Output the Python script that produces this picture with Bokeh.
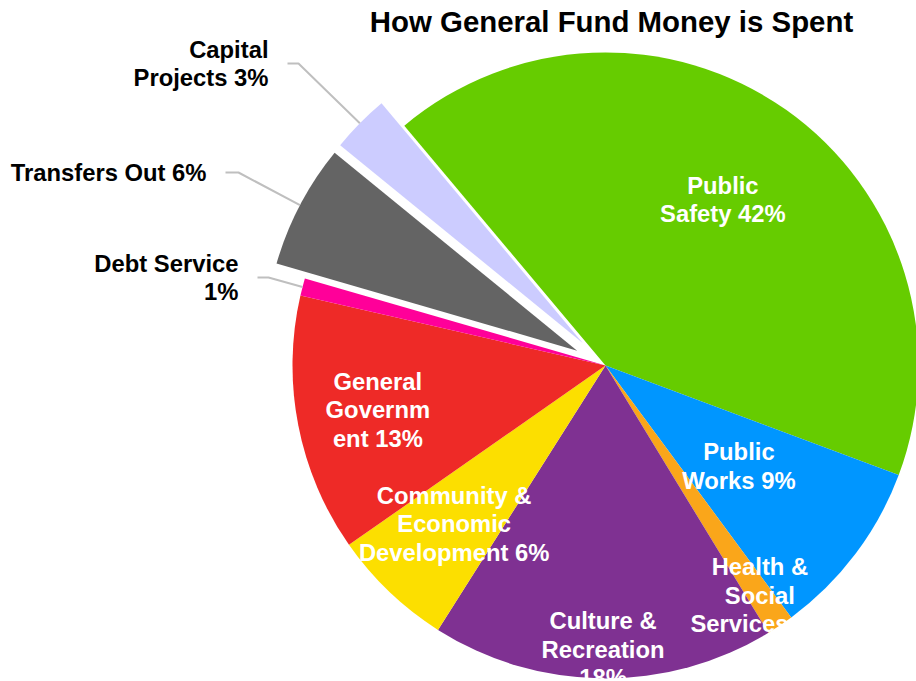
import math
from bokeh.plotting import figure
from bokeh.models import ColumnDataSource, Range1d, Label
from bokeh.core.properties import value
from bokeh.embed import file_html
from bokeh.resources import INLINE

# ---------------- data ----------------
title_text = "How General Fund Money is Spent"
categories = ["Public Safety", "Public Works", "Health & Social Services",
              "Culture & Recreation", "Community & Economic Development",
              "General Government", "Debt Service", "Transfers Out",
              "Capital Projects"]
shares = [41.8, 9.2, 1.4, 17.7, 6.3, 13.3, 0.9, 6.4, 3.0]
label_lines = [
    ["Public", "Safety 42%"],
    ["Public", "Works 9%"],
    ["Health &", "Social", "Services 1%"],
    ["Culture &", "Recreation", "18%"],
    ["Community &", "Economic", "Development 6%"],
    ["General", "Governm", "ent 13%"],
    ["Debt Service", "1%"],
    ["Transfers Out 6%"],
    ["Capital", "Projects 3%"],
]

# ---------------- style ----------------
colors = ["#66CC00", "#0096FF", "#FAA61A", "#7F3192", "#FCDF00",
          "#EE2A27", "#FF0099", "#646464", "#CCCCFF"]
explode = [0, 0, 0, 0, 0, 0, 0, 32, 32]
inside_frac = [0.65, 0.534, 0.885, 0.907, 0.70, 0.741, None, None, None]
# leader elbow / end points for outside labels (page pixel coords)
leader_pts = [None] * 6 + [((268, 277), (257, 277)),
                           ((238, 172), (225, 172)),
                           ((298, 63), (287, 63))]

W, H = 916, 681
CX, CY_REF = 605, 365
R = 313
START_DEG = 130.0
LH = 28.5
FS = "23.8px"
FONT = "Liberation Sans"


def Yd(y_ref):
    return H - y_ref


CY = Yd(CY_REF)

p = figure(width=W, height=H, output_backend="svg", toolbar_location=None,
           x_range=Range1d(0, W), y_range=Range1d(0, H),
           min_border=0, outline_line_color=None)
p.axis.visible = False
p.grid.visible = False
p.background_fill_color = "white"
p.border_fill_color = "white"

total = sum(shares)
ang = math.radians(START_DEG)
wx, wy, lo_l, hi_l = [], [], [], []
in_x, in_y, in_t = [], [], []
out_x, out_y, out_t = [], [], []
lxs, lys = [], []
for i, s in enumerate(shares):
    span = s / total * 2 * math.pi
    hi = ang
    lo = ang - span
    mid = (lo + hi) / 2
    cx = CX + explode[i] * math.cos(mid)
    cy = CY + explode[i] * math.sin(mid)
    wx.append(cx); wy.append(cy); lo_l.append(lo); hi_l.append(hi)
    lines = label_lines[i]
    n = len(lines)
    if inside_frac[i] is not None:
        lcx = cx + inside_frac[i] * R * math.cos(mid)
        lcy = cy + inside_frac[i] * R * math.sin(mid)
        for k, t in enumerate(lines):
            in_x.append(lcx)
            in_y.append(lcy - (k - (n - 1) / 2) * LH)
            in_t.append(t)
    else:
        sx = cx + R * math.cos(mid)
        sy = cy + R * math.sin(mid)
        (ex, ey), (fx, fy) = leader_pts[i]
        lxs.append([sx, ex, fx])
        lys.append([sy, Yd(ey), Yd(fy)])
        for k, t in enumerate(lines):
            out_x.append(fx - 19)
            out_y.append(Yd(fy) - (k - (n - 1) / 2) * LH)
            out_t.append(t)
    ang = lo

src = ColumnDataSource(dict(x=wx, y=wy, lo=lo_l, hi=hi_l, color=colors,
                            cat=categories))
p.wedge(x="x", y="y", radius=R, start_angle="lo", end_angle="hi",
        fill_color="color", line_color=None, source=src)

p.multi_line(xs=lxs, ys=lys, line_color="#BFBFBF", line_width=2)

p.text(x=in_x, y=in_y, text=in_t, text_color="white",
       text_font=value(FONT), text_font_style="bold",
       text_font_size=value(FS), text_align="center",
       text_baseline="alphabetic")
p.text(x=out_x, y=out_y, text=out_t, text_color="black",
       text_font=value(FONT), text_font_style="bold",
       text_font_size=value(FS), text_align="right",
       text_baseline="alphabetic")

p.add_layout(Label(x=611, y=Yd(20.5), text=title_text, text_align="center",
                   text_baseline="alphabetic", text_font=FONT,
                   text_font_style="bold", text_font_size="29.4px",
                   text_color="black"))

open("out.html", "w").write(file_html(p, INLINE))
